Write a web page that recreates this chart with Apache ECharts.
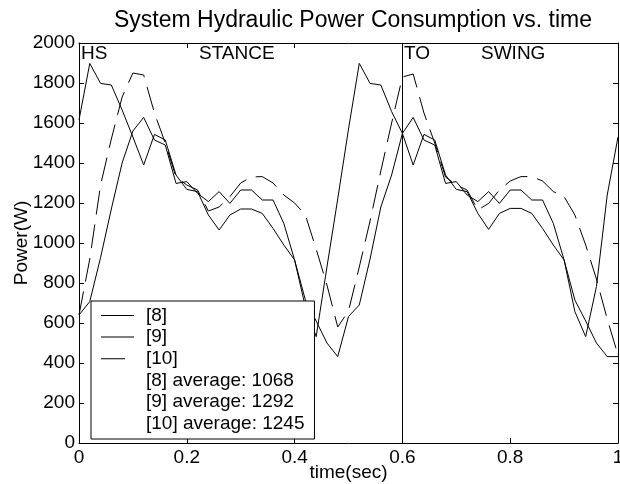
<!DOCTYPE html>
<html>
<head>
<meta charset="utf-8">
<script src="https://cdn.jsdelivr.net/npm/echarts@6/dist/echarts.min.js"></script>
<style>
  html, body { margin: 0; padding: 0; background: #fff; }
  #main { width: 620px; height: 484px; }
</style>
</head>
<body>
<div id="main"></div>
<script>
// time samples (sec)
var times = [0, 0.02, 0.04, 0.06, 0.08, 0.1, 0.12, 0.14, 0.16, 0.18,
  0.2, 0.22, 0.24, 0.26, 0.28, 0.3, 0.32, 0.34, 0.36, 0.38,
  0.4, 0.42, 0.44, 0.46, 0.48, 0.5, 0.52, 0.54, 0.56, 0.58,
  0.6, 0.62, 0.64, 0.66, 0.68, 0.7, 0.72, 0.74, 0.76, 0.78,
  0.8, 0.82, 0.84, 0.86, 0.88, 0.9, 0.92, 0.94, 0.96, 0.98, 1];

// power (W)
var power8 = [640, 707, 927, 1170, 1400, 1560, 1628, 1515, 1490, 1298,
  1307, 1248, 1207, 1257, 1198, 1265, 1265, 1215, 1215, 1098,
  915, 715, 610, 500, 432, 632, 690, 920, 1180, 1340,
  1548, 1628, 1515, 1490, 1298, 1307, 1240, 1207, 1257, 1198,
  1265, 1265, 1215, 1215, 1098, 915, 715, 610, 500, 432, 432];
var power9 = [1615, 1898, 1798, 1790, 1665, 1530, 1390, 1543, 1515, 1340,
  1268, 1257, 1140, 1065, 1140, 1170, 1170, 1148, 1073, 990,
  915, 680, 532, 880, 1220, 1570, 1898, 1798, 1790, 1657,
  1548, 1390, 1543, 1515, 1340, 1268, 1257, 1148, 1068, 1148,
  1173, 1173, 1148, 1073, 990, 915, 657, 532, 782, 1240, 1530];
var power10 = [640, 920, 1290, 1520, 1730, 1850, 1840, 1650, 1500, 1330,
  1290, 1265, 1160, 1180, 1232, 1300, 1330, 1332, 1300, 1240,
  1200, 1140, 970, 790, 580, 660, 880, 1110, 1360, 1600,
  1830, 1845, 1650, 1500, 1330, 1290, 1265, 1165, 1198, 1265,
  1310, 1332, 1332, 1310, 1257, 1232, 1140, 990, 820, 620, 440];

var seriesNames = ['[8]', '[9]', '[10]'];
var averages = [1068, 1292, 1245];
var phaseLabels = ['HS', 'STANCE', 'TO', 'SWING'];
var toeOff = 0.6;

var font = 'Liberation Sans, Arial, Helvetica, sans-serif';
var solidIcon = 'path://M0,0H33V1H0Z';
var dashIcon = 'path://M0,0H24V1H0ZM33,0L33,1';

function pairs(vals) {
  return times.map(function (t, i) { return [t, vals[i]]; });
}

var avgNames = seriesNames.map(function (n, i) {
  return n + ' average: ' + averages[i];
});

var chart = echarts.init(document.getElementById('main'), null, { renderer: 'canvas' });

var axisCommon = {
  type: 'value',
  axisLine: { show: true, onZero: false, lineStyle: { color: '#000', width: 1 } },
  axisTick: { show: true, inside: true, length: 5, lineStyle: { color: '#000' } },
  splitLine: { show: false }
};
var labelText = { fontFamily: font, fontSize: 19, color: '#000' };

var series = [
  {
    name: seriesNames[0], type: 'line', data: pairs(power8),
    symbol: 'none', lineStyle: { color: '#000', width: 1 },
    markLine: {
      silent: true, symbol: 'none', label: { show: false },
      lineStyle: { color: '#000', width: 1, type: 'solid' },
      data: [{ xAxis: toeOff }]
    }
  },
  {
    name: seriesNames[1], type: 'line', data: pairs(power9),
    symbol: 'none', lineStyle: { color: '#000', width: 1 }
  },
  {
    name: seriesNames[2], type: 'line', data: pairs(power10),
    symbol: 'none', lineStyle: { color: '#000', width: 1, type: [24, 10] }
  }
];
// legend-only rows for the averages
avgNames.forEach(function (n) {
  series.push({ name: n, type: 'line', data: [], symbol: 'none',
    lineStyle: { opacity: 0 } });
});

var legendData = [
  { name: seriesNames[0], icon: solidIcon },
  { name: seriesNames[1], icon: solidIcon },
  { name: seriesNames[2], icon: dashIcon }
].concat(avgNames.map(function (n) {
  return { name: n, icon: solidIcon, itemStyle: { opacity: 0 } };
}));

chart.setOption({
  animation: false,
  color: ['#000'],
  title: {
    text: 'System Hydraulic Power Consumption vs. time',
    left: 348, top: 4, textAlign: 'center',
    textStyle: { fontFamily: font, fontSize: 23, fontWeight: 'normal', color: '#000' }
  },
  grid: { left: 79, right: 2, top: 43, bottom: 41, containLabel: false, outerBoundsMode: 'none' },
  legend: {
    orient: 'vertical', left: 91, top: 301,
    data: legendData,
    backgroundColor: '#fff', borderColor: '#000', borderWidth: 1,
    padding: [5, 10, 6, 10], itemGap: 2.6,
    itemWidth: 33, itemHeight: 1,
    itemStyle: { color: '#000', borderWidth: 0 },
    textStyle: { fontFamily: font, fontSize: 19, color: '#000', lineHeight: 19, padding: [0, 0, 0, 7] },
    selectedMode: false
  },
  xAxis: [
    Object.assign({}, axisCommon, {
      min: 0, max: 1, interval: 0.2, position: 'bottom',
      name: 'time(sec)', nameLocation: 'middle', nameGap: 20, nameMoveOverlap: false,
      nameTextStyle: labelText,
      axisLabel: Object.assign({ margin: 5 }, labelText)
    }),
    Object.assign({}, axisCommon, {
      min: 0, max: 1, interval: 0.2, position: 'top',
      axisLabel: { show: false }
    })
  ],
  yAxis: [
    Object.assign({}, axisCommon, {
      min: 0, max: 2000, interval: 200, position: 'left',
      name: 'Power(W)', nameLocation: 'middle', nameGap: 48, nameMoveOverlap: false,
      nameTextStyle: labelText,
      axisLabel: Object.assign({ margin: 4,
        formatter: function (v) { return String(v); } }, labelText)
    }),
    Object.assign({}, axisCommon, {
      min: 0, max: 2000, interval: 200, position: 'right',
      axisLabel: { show: false }
    })
  ],
  graphic: [
    { type: 'text', left: 81, top: 44, style: { text: phaseLabels[0], font: '19px ' + font, fill: '#000' } },
    { type: 'text', left: 199, top: 44, style: { text: phaseLabels[1], font: '19px ' + font, fill: '#000' } },
    { type: 'text', left: 404, top: 44, style: { text: phaseLabels[2], font: '19px ' + font, fill: '#000' } },
    { type: 'text', left: 481, top: 44, style: { text: phaseLabels[3], font: '19px ' + font, fill: '#000' } }
  ],
  series: series
});
</script>
</body>
</html>
